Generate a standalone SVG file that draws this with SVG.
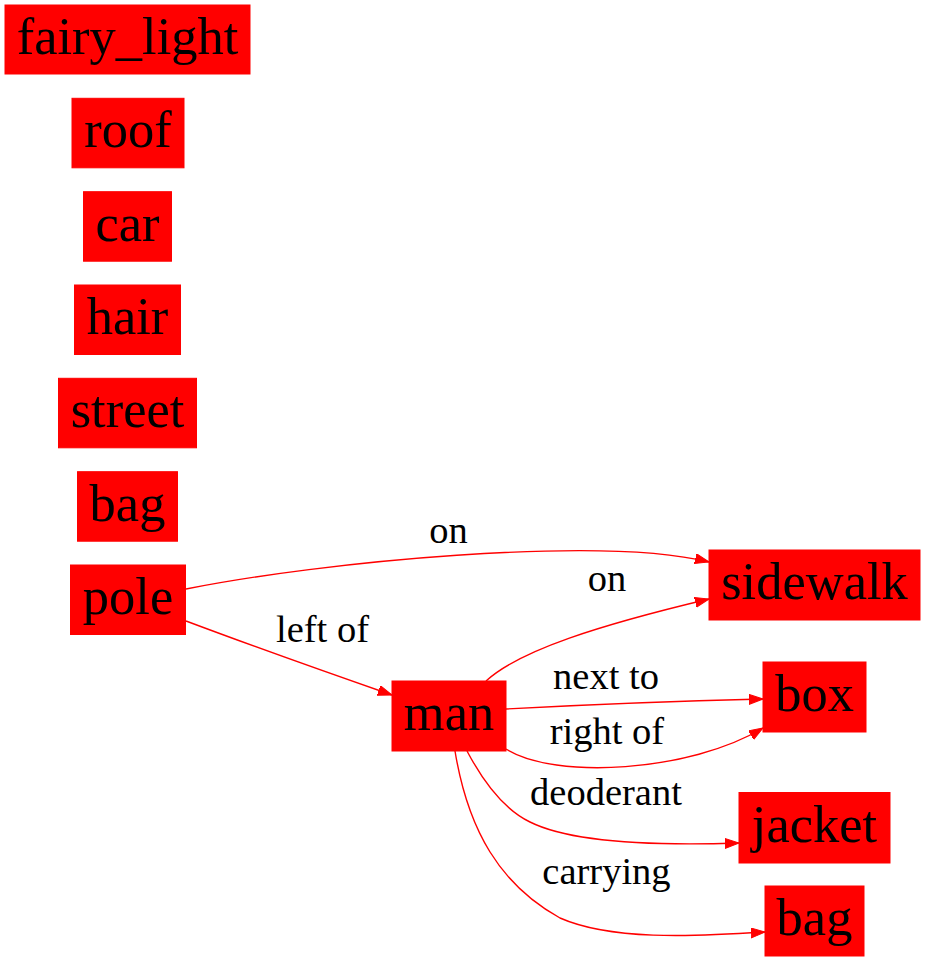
<svg xmlns="http://www.w3.org/2000/svg" width="925" height="961" viewBox="0 0 925 961">
<style>
.node rect{fill:#ff0000;stroke:#ff0000;stroke-width:1}
.node text{font-family:"Liberation Serif","Tinos","Times New Roman","Times","Nimbus Roman","Nimbus Roman No9 L","FreeSerif","Noto Serif","DejaVu Serif",serif;font-size:52.5px;fill:#000;text-anchor:middle}
.edge path{fill:none;stroke:#ff0000;stroke-width:1.4}
.elabel{font-family:"Liberation Serif","Tinos","Times New Roman","Times","Nimbus Roman","Nimbus Roman No9 L","FreeSerif","Noto Serif","DejaVu Serif",serif;font-size:38.5px;fill:#000;text-anchor:middle}
</style>
<defs>
<marker id="arr" markerUnits="userSpaceOnUse" markerWidth="16" markerHeight="12" refX="14" refY="5" orient="auto">
<polygon points="0,0 14,5 0,10" fill="#ff0000" stroke="#ff0000" stroke-width="1"/>
</marker>
</defs>
<rect width="925" height="961" fill="#ffffff"/>
<g id="edges" class="edge">
<path d="M186,589 C320,562 600,535 709,562" marker-end="url(#arr)"/>
<path d="M186,621 C250,645 320,670 392,695" marker-end="url(#arr)"/>
<path d="M486,681 C520,650 600,625 709,599" marker-end="url(#arr)"/>
<path d="M506,709 C580,705 680,701 763,699" marker-end="url(#arr)"/>
<path d="M506,749 C555,780 690,772 763,728" marker-end="url(#arr)"/>
<path d="M467,751 C485,785 505,810 530,822 C570,842 650,846 739,843" marker-end="url(#arr)"/>
<path d="M455,751 C468,830 500,885 560,918 C610,940 690,937 765,932" marker-end="url(#arr)"/>
<text class="elabel" x="448.5" y="543">on</text>
<text class="elabel" x="322.5" y="642">left of</text>
<text class="elabel" x="607" y="591">on</text>
<text class="elabel" x="606" y="688.5">next to</text>
<text class="elabel" x="607" y="743.5">right of</text>
<text class="elabel" x="606" y="805">deoderant</text>
<text class="elabel" x="606.5" y="884">carrying</text>
</g>
<g id="n_fairy_light" class="node"><rect x="5" y="5" width="245" height="69"/><text x="127.5" y="53.5">fairy_light</text></g>
<g id="n_roof" class="node"><rect x="72" y="98.3" width="112" height="69.5"/><text x="128" y="147">roof</text></g>
<g id="n_car" class="node"><rect x="83.5" y="191.7" width="88" height="69.5"/><text x="127.5" y="240.5">car</text></g>
<g id="n_hair" class="node"><rect x="74.5" y="285" width="106" height="69.5"/><text x="127.5" y="334">hair</text></g>
<g id="n_street" class="node"><rect x="58.5" y="378.3" width="138" height="69.5"/><text x="127.5" y="427">street</text></g>
<g id="n_bag1" class="node"><rect x="77.5" y="471.7" width="100" height="69.5"/><text x="127.5" y="520.5">bag</text></g>
<g id="n_pole" class="node"><rect x="70.5" y="565" width="115" height="69.5"/><text x="128" y="614">pole</text></g>
<g id="n_man" class="node"><rect x="392" y="681" width="114" height="70"/><text x="449" y="730">man</text></g>
<g id="n_sidewalk" class="node"><rect x="709" y="550" width="211" height="70"/><text x="814.5" y="599">sidewalk</text></g>
<g id="n_box" class="node"><rect x="763" y="662" width="103" height="70"/><text x="814.5" y="711">box</text></g>
<g id="n_jacket" class="node"><rect x="739" y="792.5" width="151" height="70.5"/><text x="814.5" y="842">jacket</text></g>
<g id="n_bag2" class="node"><rect x="765" y="886" width="99" height="70"/><text x="814.5" y="935">bag</text></g>
</svg>
